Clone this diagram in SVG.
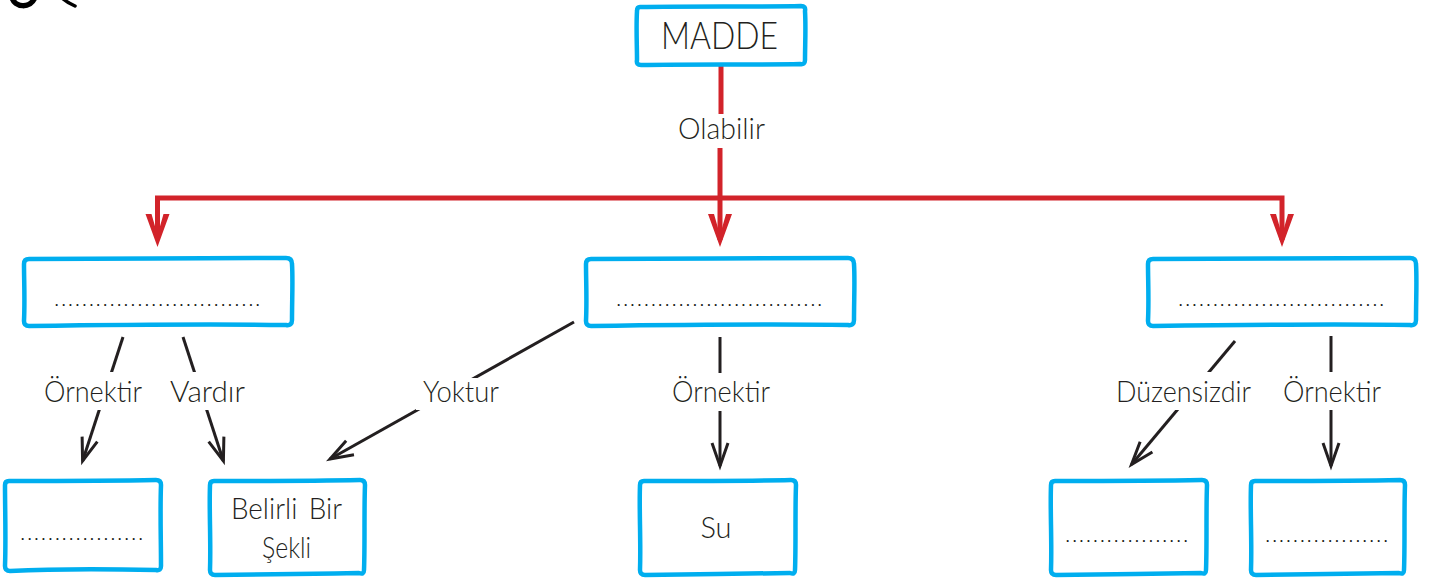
<svg xmlns="http://www.w3.org/2000/svg" width="1438" height="580" viewBox="0 0 1438 580">
<style>
.box{fill:#fff;stroke:#00aeef;stroke-width:4.5;stroke-linejoin:round}
.red{fill:none;stroke:#d2232a;stroke-width:5}
.blk{fill:none;stroke:#231f20;stroke-width:3}
.t{font-family:Lato,"Open Sans",sans-serif;font-weight:300;fill:#231f20;text-anchor:middle}
.l{font-size:29px}
.d{font-family:"Liberation Sans",sans-serif;font-weight:700;font-size:12px;letter-spacing:3.6px;fill:#231f20}
.mask{fill:#fff}
</style>
<defs>
<marker id="ra" markerUnits="userSpaceOnUse" markerWidth="50" markerHeight="40" refX="0" refY="0" viewBox="-40 -20 50 40" orient="auto" overflow="visible"><path d="M-33,-12 L0,0 L-33,12 L-33,6 L-19,2 L-19,-2 L-33,-6Z" fill="#d2232a"/></marker>
<marker id="ba" markerUnits="userSpaceOnUse" markerWidth="40" markerHeight="30" refX="0" refY="0" viewBox="-30 -15 40 30" orient="auto" overflow="visible"><path d="M-23,-8 L0,0 L-23,8" fill="none" stroke="#231f20" stroke-width="3"/></marker>
</defs>
<g id="corner-mark" fill="none" stroke="#000" stroke-linecap="round"><path d="M12,-3 C14,8 31,9 35,-3" stroke-width="5.500"/><path d="M61,-3 Q66,2 75,6" stroke-width="3.500"/></g>
<g id="connectors">
<path class="red" d="M721,66V114"/>
<path class="red" d="M720,148V240"/>
<path class="red" d="M157.500,240V198H1282V240"/>
<path d="M157.500,240V247" class="red" marker-end="url(#ra)" stroke-opacity="0"/>
<path d="M720,240V247" class="red" marker-end="url(#ra)" stroke-opacity="0"/>
<path d="M1282,240V247" class="red" marker-end="url(#ra)" stroke-opacity="0"/>
<path class="blk" d="M123,337L82.600,461" marker-end="url(#ba)"/>
<path class="blk" d="M183,337L223.400,461" marker-end="url(#ba)"/>
<path class="blk" d="M574,322L330,459" marker-end="url(#ba)"/>
<path class="blk" d="M720,337V466" marker-end="url(#ba)"/>
<path class="blk" d="M1235,341L1131.500,464.500" marker-end="url(#ba)"/>
<path class="blk" d="M1331,336V466" marker-end="url(#ba)"/>
</g>
<g id="labels">
<rect class="mask" x="672" y="114" width="98" height="34"/><text class="t l" x="721.500" y="139" textLength="87" lengthAdjust="spacingAndGlyphs">Olabilir</text>
<rect class="mask" x="40" y="372" width="106" height="38"/><text class="t l" x="93" y="402" textLength="98" lengthAdjust="spacingAndGlyphs">Örnektir</text>
<rect class="mask" x="165" y="372" width="84" height="38"/><text class="t l" x="207.500" y="402" textLength="75" lengthAdjust="spacingAndGlyphs">Vardır</text>
<rect class="mask" x="416" y="378" width="90" height="32"/><text class="t l" x="461" y="402" textLength="76" lengthAdjust="spacingAndGlyphs">Yoktur</text>
<rect class="mask" x="667" y="373" width="108" height="38"/><text class="t l" x="721" y="402" textLength="98" lengthAdjust="spacingAndGlyphs">Örnektir</text>
<rect class="mask" x="1112" y="372" width="142" height="38"/><text class="t l" x="1183.500" y="402" textLength="135" lengthAdjust="spacingAndGlyphs">Düzensizdir</text>
<rect class="mask" x="1279" y="372" width="106" height="38"/><text class="t l" x="1332" y="402" textLength="98" lengthAdjust="spacingAndGlyphs">Örnektir</text>
</g>
<g id="n-madde"><path class="box" d="M640,7C690,6 760,7 801,6Q806,6 805,11C806,28 805,45 805,60Q805,65 800,64C760,65 690,64 641,65Q636,65 637,60C637,45 636,28 637,11Q637,7 640,7Z"/><text class="t" x="719.500" y="49" font-size="38" textLength="117" lengthAdjust="spacingAndGlyphs">MADDE</text></g>
<g id="n-a"><path class="box" d="M29,259C100,258 220,259 286,258Q292,258 292,264C293,280 292,300 292,320Q292,326 286,325C220,324 100,325 29,326Q24,326 24,321C25,300 24,280 24,264Q24,259 29,259Z"/><text class="d" x="55" y="306">..............................</text></g>
<g id="n-b"><path class="box" d="M591,259C662,258 782,259 848,258Q854,258 854,264C855,280 854,300 854,320Q854,326 848,325C782,324 662,325 591,326Q586,326 586,321C587,300 586,280 586,264Q586,259 591,259Z"/><text class="d" x="617" y="306">..............................</text></g>
<g id="n-c"><path class="box" d="M1153,259C1224,258 1344,259 1410,258Q1416,258 1416,264C1417,280 1416,300 1416,320Q1416,326 1410,325C1344,324 1224,325 1153,326Q1148,326 1148,321C1149,300 1148,280 1148,264Q1148,259 1153,259Z"/><text class="d" x="1179" y="306">..............................</text></g>
<g id="n-a1"><path class="box" d="M9,481C50,481 110,481 156,480Q161,480 161,485C160,510 161,540 161,566Q161,571 156,570C110,569 50,569 10,571Q5,571 5,566C6,540 5,510 5,485Q5,481 9,481Z"/><text class="d" x="21" y="540">..................</text></g>
<g id="n-a2"><path class="box" d="M214,481C260,481 310,481 360,480Q365,480 365,485C364,510 365,545 364,570Q364,575 359,573C310,574 260,574 215,575Q210,575 210,570C211,540 209,510 210,485Q210,481 214,481Z"/><text class="t l" x="286.500" y="519" word-spacing="4" textLength="111" lengthAdjust="spacingAndGlyphs">Belirli Bir</text><text class="t l" x="286.500" y="558" textLength="49" lengthAdjust="spacingAndGlyphs">Şekli</text></g>
<g id="n-b1"><path class="box" d="M644,481C690,481 745,481 791,480Q796,480 796,485C795,510 796,545 795,570Q795,575 790,573C745,574 690,574 645,575Q640,575 640,570C641,540 639,510 640,485Q640,481 644,481Z"/><text class="t l" x="716" y="538">Su</text></g>
<g id="n-c1"><path class="box" d="M1055,481C1100,481 1155,481 1202,480Q1207,480 1207,485C1206,510 1207,545 1206,570Q1206,575 1201,573C1155,574 1100,574 1056,575Q1051,575 1051,570C1052,540 1050,510 1051,485Q1051,481 1055,481Z"/><text class="d" x="1066" y="542">..................</text></g>
<g id="n-c2"><path class="box" d="M1255,481C1300,481 1355,481 1400,480Q1405,480 1405,485C1404,510 1405,545 1404,570Q1404,575 1399,573C1355,574 1300,574 1256,575Q1251,575 1251,570C1252,540 1250,510 1251,485Q1251,481 1255,481Z"/><text class="d" x="1266" y="542">..................</text></g>
</svg>
